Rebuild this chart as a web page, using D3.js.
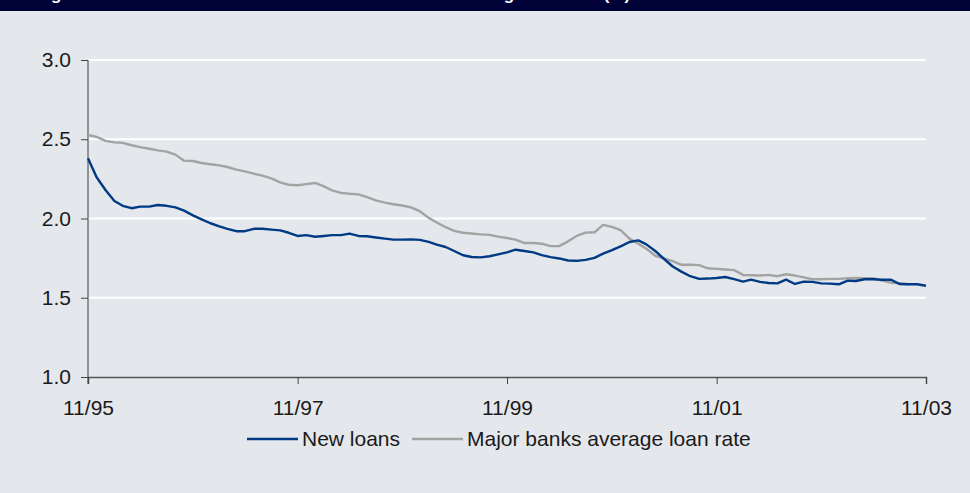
<!DOCTYPE html>
<html>
<head>
<meta charset="utf-8">
<script src="https://cdn.jsdelivr.net/npm/d3@7"></script>
<style>
  body { margin: 0; background: #e4e7ec; }
  svg text { font-family: Arial, 'Liberation Sans', sans-serif; }
</style>
</head>
<body>
<svg id="chart" width="970" height="493"></svg>
<script>
// monthly series, 11/95 .. 11/03
var newLoans = [
  2.38, 2.26, 2.18, 2.11, 2.08, 2.065, 2.075, 2.075, 2.085, 2.08, 2.07, 2.05,
  2.02, 1.995, 1.97, 1.95, 1.935, 1.92, 1.92, 1.935, 1.935, 1.93, 1.925, 1.91,
  1.89, 1.895, 1.885, 1.89, 1.895, 1.895, 1.905, 1.89, 1.888, 1.88, 1.873, 1.867,
  1.867, 1.868, 1.865, 1.853, 1.835, 1.82, 1.795, 1.768, 1.757, 1.755, 1.762, 1.774,
  1.786, 1.803, 1.795, 1.786, 1.769, 1.756, 1.748, 1.735, 1.733, 1.739, 1.752, 1.778,
  1.80, 1.824, 1.852, 1.862, 1.837, 1.795, 1.746, 1.697, 1.665, 1.636, 1.619, 1.621,
  1.625, 1.631, 1.617, 1.602, 1.614, 1.60, 1.593, 1.591, 1.614, 1.587, 1.602, 1.60,
  1.591, 1.589, 1.585, 1.608, 1.606, 1.617, 1.617, 1.614, 1.614, 1.587, 1.585, 1.585,
  1.576
]
var majorBanks = [
  2.527, 2.515, 2.49, 2.48, 2.477, 2.462, 2.45, 2.44, 2.43, 2.422, 2.403, 2.365,
  2.363, 2.35, 2.342, 2.335, 2.325, 2.308, 2.297, 2.283, 2.27, 2.253, 2.228, 2.213,
  2.21, 2.217, 2.224, 2.203, 2.177, 2.162, 2.156, 2.152, 2.135, 2.114, 2.10, 2.09,
  2.082, 2.07, 2.046, 2.004, 1.975, 1.945, 1.922, 1.91, 1.905, 1.90, 1.897, 1.886,
  1.877, 1.867, 1.845, 1.845, 1.841, 1.826, 1.826, 1.856, 1.89, 1.911, 1.913, 1.96,
  1.947, 1.926, 1.873, 1.841, 1.809, 1.765, 1.748, 1.731, 1.708, 1.708, 1.706, 1.686,
  1.682, 1.678, 1.674, 1.644, 1.642, 1.64, 1.644, 1.636, 1.648, 1.64, 1.629, 1.617,
  1.617, 1.619, 1.619, 1.623, 1.625, 1.623, 1.623, 1.608, 1.595, 1.591, 1.585
]
var seriesNames = ['New loans', 'Major banks average loan rate']
var yTicks = [1.0, 1.5, 2.0, 2.5, 3.0]
var xTickLabels = ['11/95', '11/97', '11/99', '11/01', '11/03']
var titleText = 'Figure 4: Interest rates on new loans and the banks\u2019 average loan rate (%)'

var colors = ['#003a84', '#a3a3a3']
var width = 970, height = 493
var margin = { top: 60, right: 44, bottom: 116, left: 88 }
var fontSize = 21

var startMonth = new Date(1995, 10, 1)
function monthAt (i) { return d3.timeMonth.offset(startMonth, i) }
function parseLabel (s) {
  var p = s.split('/')
  return new Date(1900 + (+p[1] < 50 ? 100 : 0) + (+p[1]), +p[0] - 1, 1)
}

var svg = d3.select('#chart')

svg.append('rect')
  .attr('width', width).attr('height', height)
  .attr('fill', '#e4e7ec')

// title bar (only the descenders of the title show, as in the source)
svg.append('rect')
  .attr('width', width).attr('height', 11)
  .attr('fill', '#000136')
svg.append('clipPath').attr('id', 'titleClip')
  .append('rect').attr('width', width).attr('height', 11)
svg.append('text')
  .attr('clip-path', 'url(#titleClip)')
  .attr('x', 36).attr('y', 0)
  .attr('fill', '#fff')
  .attr('font-size', 17)
  .attr('font-weight', 'bold')
  .text(titleText)

var x = d3.scaleTime()
  .domain([monthAt(0), monthAt(newLoans.length - 1)])
  .range([margin.left, width - margin.right])
var y = d3.scaleLinear()
  .domain([1.0, 3.0])
  .range([height - margin.bottom, margin.top])

// gridlines
svg.append('g')
  .selectAll('line')
  .data(yTicks.slice(1))
  .join('line')
  .attr('x1', x.range()[0]).attr('x2', x.range()[1])
  .attr('y1', function (d) { return y(d) }).attr('y2', function (d) { return y(d) })
  .attr('stroke', '#fff')
  .attr('stroke-width', 2)

// y axis
var yAxis = svg.append('g')
  .attr('transform', 'translate(' + margin.left + ',0)')
  .call(d3.axisLeft(y).tickValues(yTicks).tickFormat(d3.format('.1f')).tickSizeOuter(0).tickSize(7).tickPadding(10))
yAxis.select('.domain').attr('stroke', '#777').attr('stroke-width', 1.5)
  .attr('d', 'M0,' + y(3.0) + 'V' + (y(1.0) + 7))
yAxis.selectAll('.tick line').attr('stroke', '#444')
yAxis.selectAll('.tick text').attr('font-size', fontSize).attr('fill', '#1a1a1a').attr('font-family', 'Arial, Liberation Sans, sans-serif')

// x axis
var xAxis = svg.append('g')
  .attr('transform', 'translate(0,' + y(1.0) + ')')
  .call(d3.axisBottom(x)
    .tickValues(xTickLabels.map(parseLabel))
    .tickFormat(function (d, i) { return xTickLabels[i] })
    .tickSizeOuter(0).tickSize(7).tickPadding(16))
xAxis.select('.domain').attr('stroke', '#555').attr('stroke-width', 1.5)
xAxis.selectAll('.tick line').attr('stroke', '#444')
xAxis.selectAll('.tick text').attr('font-size', fontSize).attr('fill', '#1a1a1a').attr('font-family', 'Arial, Liberation Sans, sans-serif')

// lines
var line = d3.line()
  .x(function (d, i) { return x(monthAt(i)) })
  .y(function (d) { return y(d) })

svg.append('g')
  .selectAll('path')
  .data([majorBanks, newLoans])
  .join('path')
  .attr('d', line)
  .attr('fill', 'none')
  .attr('stroke', function (d, i) { return i === 0 ? colors[1] : colors[0] })
  .attr('stroke-width', 2.4)
  .attr('stroke-linejoin', 'round')

// legend
var legendItems = [
  { name: seriesNames[0], color: colors[0], x: 247 },
  { name: seriesNames[1], color: colors[1], x: 412 }
]
var legend = svg.append('g').attr('transform', 'translate(0,439)')
var li = legend.selectAll('g').data(legendItems).join('g')
  .attr('transform', function (d) { return 'translate(' + d.x + ',0)' })
li.append('line')
  .attr('x1', 0).attr('x2', 51)
  .attr('stroke', function (d) { return d.color })
  .attr('stroke-width', 2.4)
li.append('text')
  .attr('x', 55).attr('dy', '0.35em')
  .attr('font-size', fontSize)
  .attr('fill', '#1a1a1a')
  .text(function (d) { return d.name })
</script>
</body>
</html>
